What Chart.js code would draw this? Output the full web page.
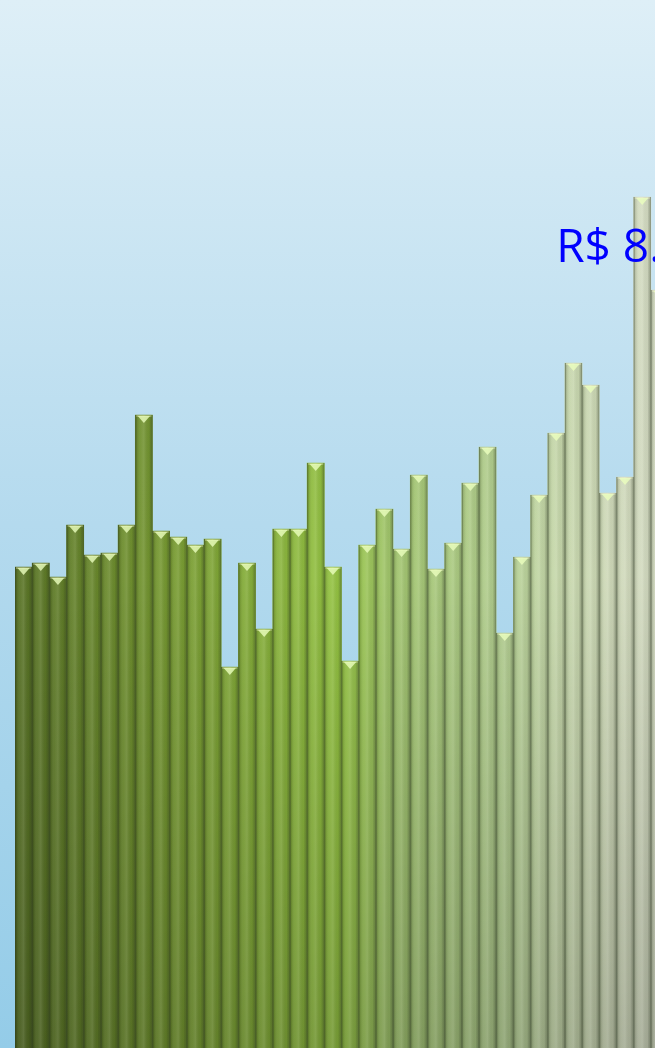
<!DOCTYPE html>
<html lang="pt-BR">
<head>
    <meta charset="UTF-8">
    <title>Valores</title>
    <style>
        html, body {
            margin: 0;
            padding: 0;
            overflow: hidden;
            background: linear-gradient(#deeff7, #b4daee 50%, #94cce8);
        }
        #wrap {
            position: relative;
            width: 668px;
            height: 1048px;
        }
    </style>
</head>
<body>
    <div id="wrap"><canvas id="myChart"></canvas></div>

    <script src="https://cdn.jsdelivr.net/npm/chart.js"></script>
    <script>

const categories = ['1', '2', '3', '4', '5', '6', '7', '8', '9', '10',
    '11', '12', '13', '14', '15', '16', '17', '18', '19', '20',
    '21', '22', '23', '24', '25', '26', '27', '28', '29', '30',
    '31', '32', '33', '34', '35', '36', '37', '38'];

const values = [4810, 4850, 4710, 5230, 4930, 4950, 5230, 6330, 5170, 5110,
    5030, 5090, 3810, 4850, 4190, 5190, 5190, 5850, 4810, 3870,
    5030, 5390, 4990, 5730, 4790, 5050, 5650, 6010, 4150, 4910,
    5530, 6150, 6850, 6630, 5550, 5710, 8510, 7580];

const calloutIndex = 36;
const calloutText = 'R$ 8.510';

// colour along the series, left (dark olive) to right (pale)
const fillStops = [
    [0.00, '#5a7526'],
    [0.25, '#7b9f33'],
    [0.50, '#98c844'],
    [0.58, '#a4c870'],
    [0.75, '#b6d293'],
    [0.82, '#c8dbab'],
    [0.92, '#d3ddbd'],
    [1.00, '#d9e0c8']
];

function seriesFill(context) {
    const chart = context.chart;
    const area = chart.chartArea;
    if (!area) return '#7a9c34';
    const g = chart.ctx.createLinearGradient(area.left, 0, area.right, 0);
    fillStops.forEach(s => g.addColorStop(s[0], s[1]));
    return g;
}

const barStyle = {
    id: 'barStyle',
    beforeDraw(chart) {
        const c = chart.ctx;
        const g = c.createLinearGradient(0, 0, 0, chart.height);
        g.addColorStop(0, '#deeff7');
        g.addColorStop(0.5, '#b4daee');
        g.addColorStop(1, '#94cce8');
        c.save();
        c.fillStyle = g;
        c.fillRect(0, 0, chart.width, chart.height);
        c.restore();
    },
    afterDatasetsDraw(chart) {
        const c = chart.ctx;
        const area = chart.chartArea;
        const meta = chart.getDatasetMeta(0);

        const shade = c.createLinearGradient(0, area.top, 0, area.bottom);
        shade.addColorStop(0, 'rgba(255,255,255,0.08)');
        shade.addColorStop(0.55, 'rgba(0,0,0,0.02)');
        shade.addColorStop(1, 'rgba(0,0,0,0.22)');

        c.save();
        meta.data.forEach(bar => {
            const p = bar.getProps(['x', 'y', 'base', 'width'], true);
            const l = p.x - p.width / 2;
            const r = p.x + p.width / 2;
            const w = p.width;

            c.fillStyle = shade;
            c.fillRect(l, p.y, w, p.base - p.y);

            // rounded look
            const cyl = c.createLinearGradient(l, 0, r, 0);
            cyl.addColorStop(0, 'rgba(40,50,30,0.6)');
            cyl.addColorStop(0.1, 'rgba(40,50,30,0.15)');
            cyl.addColorStop(0.3, 'rgba(255,255,255,0.06)');
            cyl.addColorStop(0.5, 'rgba(255,255,255,0.12)');
            cyl.addColorStop(0.8, 'rgba(0,0,0,0.04)');
            cyl.addColorStop(0.93, 'rgba(40,50,30,0.28)');
            cyl.addColorStop(1, 'rgba(40,50,30,0.55)');
            c.fillStyle = cyl;
            c.fillRect(l, p.y, w, p.base - p.y);

            // pointed top
            c.fillStyle = 'rgba(255,255,215,0.3)';
            c.fillRect(l + 1, p.y, w - 2, 2);
            c.beginPath();
            c.moveTo(l + 2.5, p.y + 1);
            c.lineTo(r - 2.5, p.y + 1);
            c.lineTo(p.x, p.y + 8);
            c.closePath();
            c.fillStyle = 'rgba(235,255,190,0.8)';
            c.fill();
        });

        const tgt = meta.data[calloutIndex];
        if (tgt) {
            c.font = '46px "Open Sans", "Noto Sans", sans-serif';
            c.fillStyle = '#0000ff';
            c.textAlign = 'left';
            c.textBaseline = 'alphabetic';
            c.fillText(calloutText, tgt.x - 86, tgt.y + 65);
        }
        c.restore();
    }
};

const ctx = document.getElementById('myChart').getContext('2d');
const chart = new Chart(ctx, {
    type: 'bar',
    data: {
        labels: categories,
        datasets: [{
            data: values,
            backgroundColor: seriesFill,
            borderWidth: 0,
            barPercentage: 1,
            categoryPercentage: 1
        }]
    },
    options: {
        responsive: true,
        maintainAspectRatio: false,
        animation: false,
        layout: {
            padding: { left: 15, right: 0, top: 0, bottom: 0 }
        },
        plugins: {
            legend: { display: false },
            tooltip: { enabled: false }
        },
        scales: {
            x: { display: false },
            y: { display: false, min: 0, max: 10480 }
        }
    },
    plugins: [barStyle]
});

    </script>
</body>
</html>
